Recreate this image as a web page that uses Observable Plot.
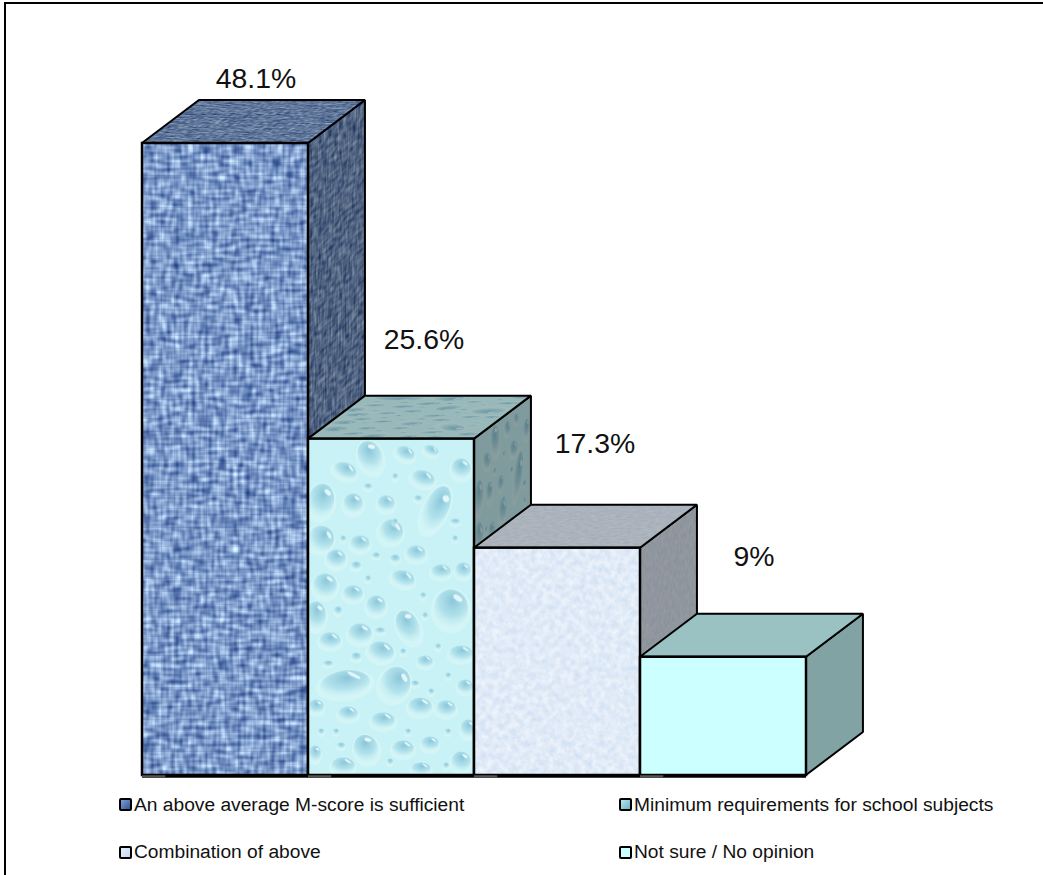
<!DOCTYPE html>
<html>
<head>
<meta charset="utf-8">
<script src="https://cdn.jsdelivr.net/npm/d3@7"></script>
<script src="https://cdn.jsdelivr.net/npm/@observablehq/plot@0.6"></script>
<style>
  html, body { margin: 0; padding: 0; background: #fff; }
  body { width: 1043px; height: 875px; overflow: hidden; position: relative; font-family: "Liberation Sans", Arial, sans-serif; }
  #frame { position: absolute; left: 4px; top: 2px; width: 1045px; height: 880px; border-top: 2px solid #000; border-left: 2px solid #000; box-sizing: border-box; }
  #chart { position: absolute; left: 0; top: 0; }
  #chart svg { display: block; background: transparent; }
  #legend { position: absolute; left: 119px; top: 781px; display: grid; grid-template-columns: 500px 420px; grid-auto-rows: 47.5px; }
  .item { display: flex; align-items: center; font-size: 19.2px; color: #111; white-space: nowrap; }
  .swatch { box-sizing: border-box; width: 13px; height: 13px; border: 2.5px solid #000; border-radius: 2px; margin-right: 2px; }
</style>
</head>
<body>
<div id="frame"></div>
<div id="chart"></div>
<div id="legend"></div>
<script>
// Survey responses, in percent
const categories = [
  "An above average M-score is sufficient",
  "Minimum requirements for school subjects",
  "Combination of above",
  "Not sure / No opinion"
];
const percents = [48.1, 25.6, 17.3, 9];
const swatches = [
  "linear-gradient(135deg,#7d9fd8,#34558f)",
  "linear-gradient(135deg,#b5e6ee,#6fb4c8)",
  "linear-gradient(135deg,#e4eefa,#c3d6ee)",
  "#ccffff"
];
const textures = ["weave", "drops", "paper", "plain"];

// Oblique depth of the boxes, in bar widths and in percentage points
const depthX = 0.343;
const depthY = 3.27;

// Label nudges in pixels, relative to the middle of each box top
const labelDx = [2, 4, 9, 2];
const labelDy = [-22, -56, -61, -57];

const bars = categories.map((category, i) => ({category, i, value: percents[i], texture: textures[i]}));

const sideFace = (b) => [
  {x: b.i + 1, y1: 0, y2: b.value},
  {x: b.i + 1 + depthX, y1: depthY, y2: b.value + depthY}
];
const topFace = (b) => [
  {x: b.i, y1: b.value, y2: b.value},
  {x: b.i + depthX, y1: b.value, y2: b.value + depthY},
  {x: b.i + 1, y1: b.value, y2: b.value + depthY},
  {x: b.i + 1 + depthX, y1: b.value + depthY, y2: b.value + depthY}
];

const boxMarks = bars.flatMap((b) => [
  Plot.area(sideFace(b), {x1: "x", y1: "y1", y2: "y2", fill: `url(#${b.texture}-side)`, stroke: "#000", strokeWidth: 2, strokeLinejoin: "miter"}),
  Plot.area(topFace(b), {x1: "x", y1: "y1", y2: "y2", fill: `url(#${b.texture}-top)`, stroke: "#000", strokeWidth: 2, strokeLinejoin: "miter"}),
  Plot.rect([b], {x1: "i", x2: (d) => d.i + 1, y1: 0, y2: "value", fill: `url(#${b.texture}-front)`, stroke: "#000", strokeWidth: 2.5})
]);

// Heavy floor line with a short grey stub at the start of each box
const floorMarks = [
  Plot.ruleY([0], {x1: 0, x2: 4, stroke: "#000", strokeWidth: 3.5, dy: 0.5}),
  Plot.rect(bars, {x1: "i", x2: (d) => d.i + 0.14, y1: -0.02, y2: -0.2, fill: "#555"})
];

const labelMarks = bars.map((b) =>
  Plot.text([b], {
    x: (d) => d.i + 0.5 + depthX / 2,
    y: (d) => d.value + depthY,
    text: (d) => `${d.value}%`,
    dx: labelDx[b.i],
    dy: labelDy[b.i],
    fontSize: 28.4,
    fontFamily: "Liberation Sans, Arial, sans-serif",
    fill: "#111"
  })
);

const plot = Plot.plot({
  width: 1043,
  height: 785,
  margin: 0,
  style: {background: "transparent"},
  x: {axis: null, domain: [0, 4], range: [142, 806]},
  y: {axis: null, domain: [0, 48.1], range: [775, 143]},
  marks: [...boxMarks, ...floorMarks, ...labelMarks]
});
document.getElementById("chart").appendChild(plot);

// Fabric, droplet and paper fills, anchored on each bar through the scales
const sx = plot.scale("x");
const sy = plot.scale("y");
const defs = d3.select(plot).insert("defs", ":first-child");

function noiseFilter(id, layers, matrix, blur) {
  const f = defs.append("filter").attr("id", id)
    .attr("x", 0).attr("y", 0).attr("width", "100%").attr("height", "100%")
    .attr("color-interpolation-filters", "sRGB");
  layers.forEach((l, k) => {
    f.append("feTurbulence").attr("type", "fractalNoise")
      .attr("baseFrequency", l.freq).attr("numOctaves", l.oct).attr("seed", l.seed).attr("result", `n${k}`);
    f.append("feColorMatrix").attr("in", `n${k}`).attr("type", "matrix")
      .attr("values", "1 0 0 0 0  1 0 0 0 0  1 0 0 0 0  0 0 0 0 1").attr("result", `o${k}`);
  });
  if (layers.length > 1) {
    f.append("feComposite").attr("in", "o0").attr("in2", "o1").attr("operator", "arithmetic")
      .attr("k1", 0).attr("k2", 0.5).attr("k3", 0.5).attr("k4", 0).attr("result", "o0");
  }
  f.append("feColorMatrix").attr("in", "o0").attr("type", "matrix").attr("values", matrix).attr("result", "c");
  if (blur) f.append("feGaussianBlur").attr("in", "c").attr("stdDeviation", blur);
}

noiseFilter("weaveNoise",
  [{freq: "0.07 0.24", oct: 1, seed: 4}, {freq: "0.24 0.07", oct: 1, seed: 11}],
  "1.35 0 0 0 -0.17  1.3 0 0 0 -0.03  1.0 0 0 0 0.3  0 0 0 0 1", 0.7);
noiseFilter("paperNoise",
  [{freq: "0.16", oct: 4, seed: 7}],
  "0.18 0 0 0 0.79  0.12 0 0 0 0.86  0.05 0 0 0 0.945  0 0 0 0 1");

const softDrop = defs.append("filter").attr("id", "softDrop");
softDrop.append("feGaussianBlur").attr("stdDeviation", 0.7);

const grid = defs.append("pattern").attr("id", "weaveGrid")
  .attr("patternUnits", "userSpaceOnUse").attr("width", 6.4).attr("height", 6.4);
grid.append("path").attr("d", "M0 0H6.4M0 0V6.4").attr("stroke", "#1d3d78").attr("stroke-opacity", 0.22).attr("stroke-width", 1.4).attr("fill", "none");

const grad = defs.append("radialGradient").attr("id", "dropShade").attr("cx", 0.55).attr("cy", 0.3).attr("r", 0.75);
grad.append("stop").attr("offset", 0).attr("stop-color", "#84c2d7").attr("stop-opacity", 0.92);
grad.append("stop").attr("offset", 0.55).attr("stop-color", "#a4dae7").attr("stop-opacity", 0.7);
grad.append("stop").attr("offset", 1).attr("stop-color", "#c8f2f5").attr("stop-opacity", 0);

// Droplets of the water texture: centre, radii, tilt, in texture pixels
const droplets = [
  [62,18,12,16,-20],[97,15,10,7,20],[123,12,8,5,20],[153,30,10,10,0],[37,32,12,8,20],[115,40,12,8,15],
  [13,62,13,17,10],[45,65,10,10,0],[78,65,9,8,0],[128,70,12,24,25],[83,93,12,12,20],[13,100,13,13,30],
  [52,105,10,8,0],[108,115,10,8,0],[28,120,10,9,0],[87,120,5,4,0],[48,127,5,4,0],[133,133,10,7,0],
  [155,132,8,8,0],[17,147,12,12,0],[95,140,12,8,15],[45,155,10,8,0],[68,167,10,10,0],[143,170,17,19,0],
  [8,177,10,14,0],[100,188,11,17,-25],[52,195,12,10,0],[22,202,11,8,0],[73,213,13,10,10],[153,215,12,8,0],
  [117,223,8,6,0],[37,245,25,13,-8],[87,245,15,17,25],[8,268,8,7,0],[40,275,10,7,0],[112,268,12,9,0],
  [138,270,10,8,0],[75,282,12,8,0],[160,290,8,9,0],[58,310,12,14,-20],[95,310,11,8,0],[122,305,9,7,0],
  [7,315,6,8,0],[35,327,12,8,0],[113,330,10,6,0],[153,323,10,10,0],
  [60,48,4,3,0],[87,38,3,3,0],[110,60,4,3,0],[68,117,4,3,0],[35,100,3,3,0],[60,140,3,3,0],[115,157,3,3,0],
  [30,172,4,4,0],[117,177,3,3,0],[72,192,5,3,0],[48,218,5,4,0],[95,213,3,3,0],[130,208,3,3,0],[140,237,3,3,0],
  [107,245,4,3,0],[123,253,3,3,0],[157,248,8,7,0],[20,225,5,3,0],[13,293,3,3,0],[28,293,3,3,0],[100,293,3,3,0],
  [140,293,3,3,0],[33,307,4,3,0],[82,323,3,3,0],[138,327,3,3,0],[87,83,3,3,0],[147,83,5,3,0],[147,100,3,3,0]
];

function drawWeave(g, w, h) {
  g.append("rect").attr("width", w).attr("height", h).attr("filter", "url(#weaveNoise)");
  g.append("rect").attr("width", w).attr("height", h).attr("fill", "url(#weaveGrid)");
}
function drawPaper(g, w, h) {
  g.append("rect").attr("width", w).attr("height", h).attr("filter", "url(#paperNoise)");
}
function drawPlain(g, w, h) {
  g.append("rect").attr("width", w).attr("height", h).attr("fill", "#ccffff");
}
function drawDrops(g, w, h) {
  g.append("rect").attr("width", w).attr("height", h).attr("fill", "#c8f2f5");
  const soft = g.append("g").attr("filter", "url(#softDrop)");
  const drop = soft.selectAll("g").data(droplets).join("g")
    .attr("transform", (d) => `translate(${d[0]},${d[1]}) rotate(${d[4]})`);
  drop.append("ellipse").attr("cy", 2).attr("rx", (d) => d[2] * 1.2).attr("ry", (d) => d[3] * 1.2)
    .attr("fill", "#e2f9f9").attr("fill-opacity", 0.45);
  drop.append("ellipse").attr("rx", (d) => d[2]).attr("ry", (d) => d[3]).attr("fill", "url(#dropShade)");
  drop.filter((d) => d[2] > 5).append("ellipse")
    .attr("cx", (d) => d[2] * 0.4).attr("cy", (d) => -d[3] * 0.55)
    .attr("rx", (d) => d[2] * 0.3).attr("ry", (d) => d[3] * 0.13)
    .attr("transform", (d) => `rotate(35 ${d[2] * 0.4} ${-d[3] * 0.55})`)
    .attr("fill", "#eefefe").attr("fill-opacity", 0.85);
}

const painters = {weave: drawWeave, drops: drawDrops, paper: drawPaper, plain: drawPlain};

function tile(id, paint, w, h, shade, matrix) {
  const p = defs.append("pattern").attr("id", id)
    .attr("patternUnits", "userSpaceOnUse")
    .attr("x", 0).attr("y", 0).attr("width", w).attr("height", h)
    .attr("patternTransform", `matrix(${matrix.join(" ")})`);
  const g = p.append("g");
  paint(g, w, h);
  if (shade) p.append("rect").attr("width", w).attr("height", h).attr("fill", "#000").attr("fill-opacity", shade);
}

for (const b of bars) {
  const x0 = sx.apply(b.i);
  const y0 = sy.apply(b.value);
  const w = sx.apply(b.i + 1) - x0;
  const h = sy.apply(0) - y0;
  const paint = painters[b.texture];
  const dpx = sx.apply(b.i + 1 + depthX) - sx.apply(b.i + 1);
  const dpy = sy.apply(0) - sy.apply(depthY);
  tile(`${b.texture}-front`, paint, w, h, 0, [1, 0, 0, 1, x0, y0]);
  tile(`${b.texture}-side`, paint, w, h, 0.36, [dpx / w, -dpy / w, 0, 1, x0 + w, y0]);
  tile(`${b.texture}-top`, paint, w, h, 0.24, [1, 0, 1.3 * dpx / h, -1.3 * dpy / h, x0, y0]);
}

// Legend below the boxes, two columns
d3.select("#legend").selectAll("div").data(bars).join("div").attr("class", "item")
  .call((item) => {
    item.append("span").attr("class", "swatch").style("background", (d) => swatches[d.i]);
    item.append("span").text((d) => d.category);
  });
</script>
</body>
</html>
